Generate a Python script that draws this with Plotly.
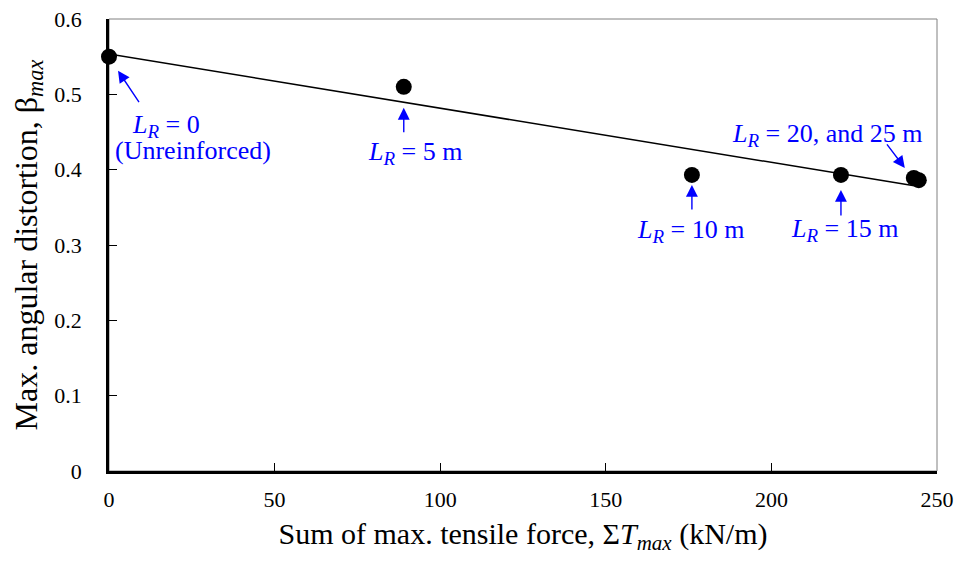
import numpy as np
import plotly.graph_objects as go

# Data
sum_tmax = [0, 89, 176, 221, 243, 244.5]
beta_max = [0.550, 0.510, 0.393, 0.393, 0.389, 0.386]
x_ticks = [0, 50, 100, 150, 200, 250]
y_ticks = [0, 0.1, 0.2, 0.3, 0.4, 0.5, 0.6]

LR = "<i>L</i><sub><span style='font-size:19px'><i>R</i></span></sub>"
# (point index, text, text dx, text dy(px, down))
labels = [
    (0, LR + " = 0", 57, 69),
    (0, "(Unreinforced)", 84, 94),
    (1, LR + " = 5 m", 11, 66),
    (2, LR + " = 10 m", -1, 56),
    (3, LR + " = 15 m", 4, 55),
    (4, LR + " = 20, and 25 m", -86, -43),
]
# (point index, tip dx, tip dy (down), tail dx, tail dy (relative to tip))
arrows = [
    (0, 9, 14, 22, 33),
    (1, 0, 21, 0, 26),
    (2, 0, 10, 0, 26),
    (3, 0, 15, 0, 27),
    (4, -9, -10, -19, -25),
]

slope, intercept = np.polyfit(sum_tmax, beta_max, 1)
fit_x = [min(sum_tmax), max(sum_tmax)]
fit_y = [intercept + slope * v for v in fit_x]

FONT = "Liberation Serif, Times New Roman, serif"
BLUE = "#0000FF"

fig = go.Figure()
fig.add_trace(go.Scatter(x=fit_x, y=fit_y, mode="lines",
                         line=dict(color="black", width=1.5), hoverinfo="skip"))
fig.add_trace(go.Scatter(x=sum_tmax, y=beta_max, mode="markers",
                         marker=dict(color="black", size=16), cliponaxis=False))

for i, tdx, tdy, ax_, ay_ in arrows:
    fig.add_annotation(x=sum_tmax[i], y=beta_max[i], xref="x", yref="y", text="",
                       xshift=tdx, yshift=-tdy,
                       showarrow=True, arrowhead=2, arrowsize=1.7, arrowwidth=1.4,
                       arrowcolor=BLUE, ax=ax_, ay=ay_)
for i, t, dx, dy in labels:
    fig.add_annotation(x=sum_tmax[i], y=beta_max[i], xref="x", yref="y", text=t,
                       showarrow=False, xshift=dx, yshift=-dy,
                       xanchor="center", yanchor="middle",
                       font=dict(family=FONT, size=26, color=BLUE))

fig.add_shape(type="rect", xref="paper", yref="paper", x0=0, y0=0, x1=1, y1=1,
              line=dict(color="#808080", width=1), layer="below")

fig.update_layout(
    width=960, height=573,
    margin=dict(l=109, r=23, t=19, b=102, autoexpand=False),
    paper_bgcolor="white", plot_bgcolor="white",
    showlegend=False,
    font=dict(family=FONT, size=22, color="black"),
    xaxis=dict(range=[0, 250], tickvals=x_ticks, ticks="inside", ticklen=8,
               tickwidth=1, tickcolor="black", showgrid=False, zeroline=False,
               showline=True, linecolor="black", linewidth=2.5,
               ticklabelstandoff=7, automargin=False,
               title=dict(text="Sum of max. tensile force, Σ<i>T</i><sub><i>max</i></sub> (kN/m)",
                          font=dict(size=30), standoff=12)),
    yaxis=dict(range=[0, 0.6], tickvals=y_ticks,
               ticktext=["0", "0.1", "0.2", "0.3", "0.4", "0.5", "0.6"],
               ticks="inside", ticklen=8, tickwidth=1, tickcolor="black",
               showgrid=False, zeroline=False, showline=True, linecolor="black",
               linewidth=2.5, ticklabelstandoff=20, automargin=False,
               title=dict(text="Max. angular distortion, β<sub><i>max</i></sub>",
                          font=dict(size=32), standoff=8)),
)
fig.write_html("out.html")
